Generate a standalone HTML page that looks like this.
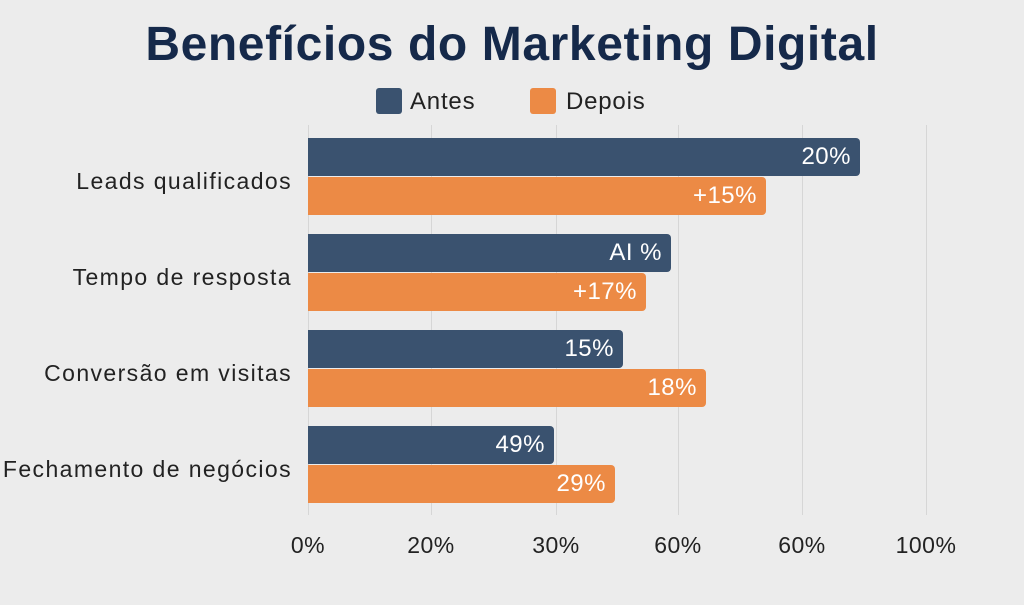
<!DOCTYPE html>
<html><head><meta charset="utf-8"><style>
html,body{margin:0;padding:0;background:#ececec;}
body{width:1024px;height:605px;position:relative;overflow:hidden;font-family:"Liberation Sans",sans-serif;}
.t{position:absolute;left:0;width:1024px;text-align:center;top:17px;font-size:48px;font-weight:bold;color:#15294a;letter-spacing:0.6px;}
.g{position:absolute;top:125px;height:390px;width:1px;background:#d6d6d6;}
.bar{position:absolute;left:308px;height:38px;border-radius:0 4px 4px 0;color:#fff;font-size:24px;text-align:right;line-height:38px;box-sizing:border-box;padding-right:9px;letter-spacing:0.5px;}
.n{background:#3a526f;}.o{background:#ec8a45;}
.c{position:absolute;right:732px;font-size:23px;color:#222;text-align:right;white-space:nowrap;letter-spacing:1.4px;}
.x{position:absolute;top:532px;font-size:23px;color:#222;width:90px;margin-left:-45px;text-align:center;letter-spacing:0.5px;}
.lg{position:absolute;top:88px;width:26px;height:26px;border-radius:3px;}
.lt{position:absolute;top:88px;font-size:24px;color:#222;letter-spacing:0.8px;}
</style></head><body>
<div class="t">Benefícios do Marketing Digital</div>
<div class="lg n" style="left:376px"></div><div class="lt" style="left:410px">Antes</div>
<div class="lg o" style="left:530px"></div><div class="lt" style="left:566px">Depois</div>
<div class="g" style="left:308px"></div><div class="g" style="left:431px"></div><div class="g" style="left:556px"></div><div class="g" style="left:678px"></div><div class="g" style="left:802px"></div><div class="g" style="left:926px"></div>
<div class="bar n" style="top:138px;width:552px">20%</div>
<div class="bar o" style="top:177px;width:458px">+15%</div>
<div class="bar n" style="top:234px;width:363px">AI %</div>
<div class="bar o" style="top:273px;width:338px">+17%</div>
<div class="bar n" style="top:330px;width:315px">15%</div>
<div class="bar o" style="top:369px;width:398px">18%</div>
<div class="bar n" style="top:426px;width:246px">49%</div>
<div class="bar o" style="top:465px;width:307px">29%</div>
<div class="c" style="top:168px">Leads qualificados</div>
<div class="c" style="top:264px">Tempo de resposta</div>
<div class="c" style="top:360px">Conversão em visitas</div>
<div class="c" style="top:456px">Fechamento de negócios</div>
<div class="x" style="left:308px">0%</div><div class="x" style="left:431px">20%</div><div class="x" style="left:556px">30%</div><div class="x" style="left:678px">60%</div><div class="x" style="left:802px">60%</div><div class="x" style="left:926px">100%</div>
</body></html>
